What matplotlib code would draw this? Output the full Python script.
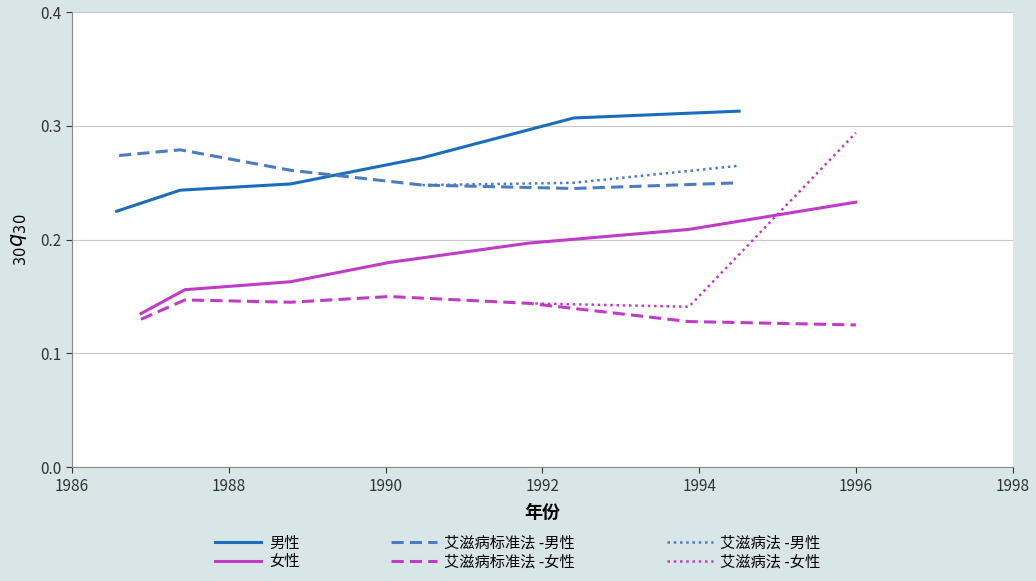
import matplotlib
matplotlib.use("Agg")
import matplotlib.pyplot as plt

plt.rcParams['font.family'] = ['Noto Sans CJK SC', 'DejaVu Sans']

m_x = [1986.57, 1987.38, 1988.79, 1990.47, 1992.4, 1994.51]
m_y = [0.225, 0.2435, 0.249, 0.272, 0.307, 0.313]
ms_x = [1986.6, 1987.38, 1988.79, 1990.47, 1992.4, 1994.51]
ms_y = [0.274, 0.279, 0.261, 0.248, 0.245, 0.250]
md_x = [1990.47, 1992.4, 1994.51]
md_y = [0.248, 0.250, 0.265]
f_x = [1986.88, 1987.44, 1988.79, 1990.05, 1991.83, 1993.87, 1996.0]
f_y = [0.135, 0.156, 0.163, 0.180, 0.197, 0.209, 0.233]
fs_y = [0.130, 0.147, 0.145, 0.150, 0.144, 0.128, 0.125]
fd_x = [1991.83, 1993.87, 1996.0]
fd_y = [0.144, 0.141, 0.294]

fig = plt.figure(figsize=(10.36, 5.81), dpi=100, facecolor='#d9e6e8')
ax = fig.add_axes([0.0695, 0.196, 0.908, 0.783])
ax.set_facecolor('white')
mc = '#1a6cbd'; msc = '#4a7cc4'; fc = '#c03cc8'
ax.plot(m_x, m_y, color=mc, lw=2.2, label='男性')
ax.plot(f_x, f_y, color=fc, lw=2.2, label='女性')
ax.plot(ms_x, ms_y, color=msc, lw=2.2, ls=(0, (4, 2)), label='艾滋病标准法 -男性')
ax.plot(f_x, fs_y, color=fc, lw=2.2, ls=(0, (4, 2)), label='艾滋病标准法 -女性')
ax.plot(md_x, md_y, color=msc, lw=1.8, ls=(0, (1, 1.5)), label='艾滋病法 -男性')
ax.plot(fd_x, fd_y, color=fc, lw=1.8, ls=(0, (1, 1.5)), label='艾滋病法 -女性')
ax.set_xlim(1986, 1998)
ax.set_ylim(0, 0.4)
ax.set_xticks(range(1986, 1999, 2))
ax.set_yticks([0, 0.1, 0.2, 0.3, 0.4])
ax.set_yticklabels(['0.0', '0.1', '0.2', '0.3', '0.4'])
ax.grid(axis='y', color='#c8c8c8', lw=0.8)
ax.set_axisbelow(True)
for s in ['top', 'right']:
    ax.spines[s].set_visible(False)
for s in ['left', 'bottom']:
    ax.spines[s].set_color('#888888')
ax.tick_params(labelsize=11, colors='#333333', length=4)
ax.set_xlabel('年份', fontsize=13, fontweight='bold', labelpad=6)
ax.set_ylabel(r'$_{30}\mathbf{\mathit{q}}_{30}$', fontsize=15, labelpad=8)
fig.legend(loc='lower center', ncol=3, bbox_to_anchor=(0.5, -0.005), frameon=False,
           fontsize=11, handlelength=3, columnspacing=6, labelspacing=0.1, handletextpad=0.5)
fig.savefig('out.png', facecolor=fig.get_facecolor())
